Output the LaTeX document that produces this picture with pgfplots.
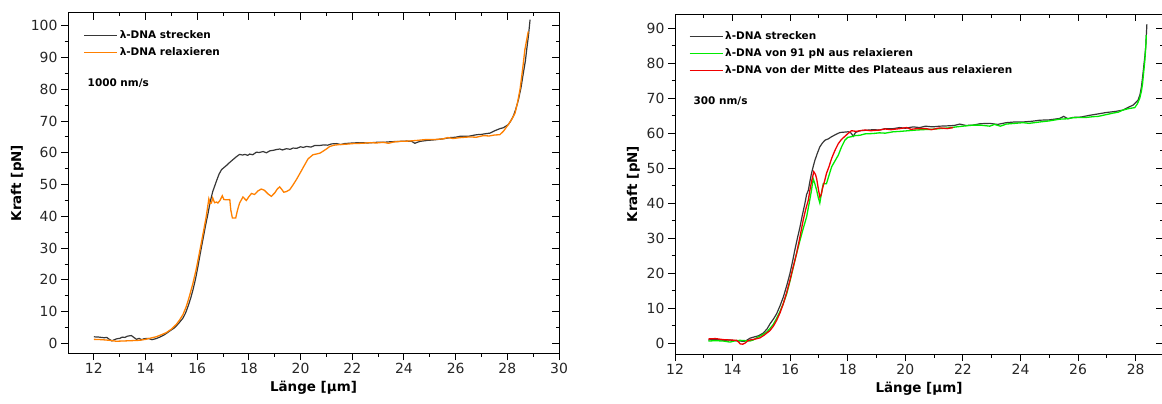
\documentclass[border=0pt]{standalone}
\usepackage{fontspec}
\setmainfont{DejaVu Sans}
\usepackage{pgfplots}
\pgfplotsset{compat=1.18}
\definecolor{cblack}{RGB}{55,55,55}
\definecolor{corange}{RGB}{255,128,0}
\definecolor{cgreen}{RGB}{0,235,0}
\definecolor{cred}{RGB}{240,0,0}
\pgfplotsset{
  base/.style={
    scale only axis,
    axis line style={line width=1bp, black},
    every tick/.style={line width=1bp, black},
    major tick length=7bp,
    minor tick length=3.5bp,
    minor x tick num=1,
    minor y tick num=1,
    /pgf/number format/assume math mode=true,
    tick label style={font=\fontsize{14}{14}\selectfont, text=black!85},
    label style={font=\bfseries\fontsize{13.5}{14}\selectfont},
  },
  mainax/.style={base, tick align=outside, xtick pos=left, ytick pos=left},
  overax/.style={base, tick align=inside, xtick pos=right, ytick pos=right,
    xticklabels={}, yticklabels={}},
}
\begin{document}
\begin{tikzpicture}[x=1bp,y=1bp]
\useasboundingbox (0,0) rectangle (1162,403);
% ---------------- left panel
\begin{axis}[mainax, at={(68bp,50bp)}, anchor=south west,
  width=491bp, height=340bp,
  xmin=11, xmax=30, ymin=-3, ymax=104,
  xtick={12,14,...,30}, ytick={0,10,...,100},
  xlabel={Länge [µm]}, ylabel={Kraft [pN]},
  legend style={draw=none, fill=none, anchor=north west, at={(0.025,0.96)},
      font=\bfseries\fontsize{10.5}{12}\selectfont, row sep=3.5bp},
  legend cell align=left,
  legend image code/.code={\draw[#1, line width=1.3bp] (0bp,0bp) -- (33bp,0bp);},
]
\addplot[cblack, line width=1.2bp] coordinates {
(12,2.1) (12.2,2.0) (12.4,1.8) (12.5,1.9) (12.6,1.3) (12.7,0.8) (12.8,1.2) (12.9,1.5) (13.0,1.6) (13.1,2.0) (13.2,1.9) (13.3,2.3) (13.45,2.5) (13.55,1.9) (13.65,1.3) (13.75,1.6) (13.85,1.2) (13.95,1.5) (14.1,1.6) (14.25,1.2) (14.4,1.5) (14.55,2.0) (14.7,2.6) (14.85,3.4) (14.95,4.0) (15.1,4.8) (15.2,5.6) (15.3,6.5) (15.45,8.0) (15.55,9.6) (15.65,11.8) (15.75,14.3) (15.84,17) (15.94,20.5) (16.03,24.3) (16.12,28.4) (16.22,32.7) (16.32,37) (16.42,41) (16.5,44.5) (16.6,47.8) (16.74,51) (16.84,53.2) (16.94,54.7) (17.04,55.4) (17.13,56.0) (17.26,57.0) (17.39,57.9) (17.52,58.8) (17.64,59.5) (17.75,59.3) (17.85,59.5) (17.95,59.2) (18.03,59.6) (18.15,59.4) (18.29,60.2) (18.4,60.1) (18.55,60.4) (18.68,60.0) (18.8,60.6) (18.95,60.8) (19.05,61.0) (19.19,61.2) (19.3,60.9) (19.45,61.3) (19.6,61.1) (19.71,61.5) (19.85,61.4) (20.0,61.9) (20.1,61.7) (20.23,62.0) (20.4,61.8) (20.55,62.3) (20.74,62.3) (20.9,62.5) (21.05,62.4) (21.2,62.8) (21.39,62.9) (21.55,62.6) (21.7,62.9) (21.85,63.0) (22.03,63.1) (22.3,63.2) (22.6,63.1) (22.94,63.3) (23.2,63.3) (23.5,63.5) (23.84,63.6) (24.1,63.7) (24.3,63.6) (24.42,63.0) (24.55,63.4) (24.62,63.6) (24.9,63.9) (25.2,64.1) (25.52,64.4) (25.8,64.8) (26.0,64.9) (26.17,65.2) (26.5,65.2) (26.81,65.7) (27.0,65.8) (27.15,66.0) (27.33,66.2) (27.5,66.9) (27.71,67.6) (27.85,67.9) (28.04,68.9) (28.13,70.0) (28.23,71.5) (28.33,73.8) (28.43,76.7) (28.53,80.5) (28.62,85.1) (28.7,89) (28.75,92.5) (28.82,97) (28.88,101.9)
};
\addlegendentry{λ-DNA strecken}
\addplot[corange, line width=1.3bp] coordinates {
(12,1.3) (12.3,1.2) (12.6,1.0) (12.87,0.7) (13.2,0.8) (13.5,0.9) (13.77,1.0) (14.0,1.3) (14.2,1.7) (14.41,2.1) (14.6,2.7) (14.8,3.4) (15.0,4.5) (15.19,6) (15.32,7.4) (15.45,9.1) (15.58,11.7) (15.7,14.9) (15.83,18.8) (15.96,23.3) (16.06,27.5) (16.16,31.7) (16.26,36) (16.35,40) (16.45,45.5) (16.5,44.0) (16.55,44.2) (16.6,45.8) (16.67,44.3) (16.75,44.5) (16.8,44.2) (16.88,45.0) (16.97,46.5) (17.03,45.3) (17.15,45.2) (17.26,45.3) (17.3,42) (17.36,39.5) (17.49,39.5) (17.56,42) (17.64,44.2) (17.77,46.1) (17.9,45.0) (18.0,46.2) (18.1,47.2) (18.22,46.9) (18.35,48.0) (18.48,48.6) (18.6,48.2) (18.75,47.0) (18.87,46.3) (19.0,47.4) (19.1,48.6) (19.19,49.3) (19.28,48.4) (19.35,47.6) (19.45,47.8) (19.58,48.4) (19.7,49.8) (19.84,51.6) (20.0,53.9) (20.15,56.1) (20.29,58.1) (20.48,59.4) (20.6,59.6) (20.75,59.9) (20.87,60.5) (21.0,61.2) (21.13,62.0) (21.3,62.4) (21.52,62.6) (21.75,62.7) (22.03,62.9) (22.4,63.0) (22.7,63.2) (22.94,63.1) (23.2,63.3) (23.4,63.0) (23.6,63.4) (23.84,63.6) (24.2,63.7) (24.5,63.9) (24.87,64.2) (25.2,64.2) (25.52,64.4) (25.7,64.8) (25.9,64.5) (26.2,64.8) (26.55,65.0) (26.8,64.9) (27.07,65.4) (27.3,65.3) (27.5,65.6) (27.71,65.7) (27.85,66.8) (28.04,68.9) (28.17,70.5) (28.3,72.5) (28.4,76) (28.49,79.9) (28.58,85.5) (28.68,92.5) (28.81,98.2)
};
\addlegendentry{λ-DNA relaxieren}
\node[anchor=west, font=\bfseries\fontsize{10.5}{12}\selectfont] at (rel axis cs:0.033,0.794) {1000 nm/s};
\end{axis}
\begin{axis}[overax, at={(68bp,50bp)}, anchor=south west,
  width=491bp, height=340bp,
  xmin=11, xmax=30, ymin=-3, ymax=104,
  xtick={12,14,...,30}, ytick={0,10,...,100}]
\end{axis}
% ---------------- right panel
\begin{axis}[mainax, at={(675bp,49bp)}, anchor=south west,
  width=488bp, height=340bp,
  xmin=12, xmax=28.95, ymin=-3, ymax=94,
  xtick={12,14,...,28}, ytick={0,10,...,90},
  xlabel={Länge [µm]}, ylabel={Kraft [pN]},
  legend style={draw=none, fill=none, anchor=north west, at={(0.022,0.96)},
      font=\bfseries\fontsize{10.5}{12}\selectfont, row sep=3.5bp},
  legend cell align=left,
  legend image code/.code={\draw[#1, line width=1.3bp] (0bp,0bp) -- (33bp,0bp);},
]
\addplot[cblack, line width=1.2bp] coordinates {
(13.16,1.0) (13.4,1.2) (13.68,0.9) (13.9,1.0) (14.1,0.8) (14.26,0.7) (14.4,0.6) (14.49,0.9) (14.6,1.5) (14.72,1.8) (14.9,2.2) (15.07,3.0) (15.2,4.2) (15.3,5.6) (15.42,7.0) (15.53,8.5) (15.65,10.8) (15.76,13.2) (15.88,16.5) (15.99,19.9) (16.08,23.3) (16.16,26.6) (16.25,30.0) (16.34,33.2) (16.42,36.5) (16.51,39.9) (16.57,42.5) (16.63,43.7) (16.68,46) (16.74,48.5) (16.8,50.5) (16.86,52.3) (16.95,54.4) (17.03,56.1) (17.12,57.2) (17.21,58.0) (17.33,58.4) (17.44,59.0) (17.6,59.7) (17.73,60.2) (17.88,60.3) (18.02,60.4) (18.12,60.0) (18.19,59.1) (18.27,60.2) (18.42,60.7) (18.6,60.8) (18.88,61.0) (19.1,60.9) (19.3,61.3) (19.58,61.3) (19.8,61.6) (20.0,61.4) (20.27,61.8) (20.5,61.6) (20.7,62.0) (20.95,61.8) (21.2,62.0) (21.5,62.1) (21.7,62.2) (21.89,62.6) (22.1,62.2) (22.35,62.3) (22.6,62.7) (22.93,62.8) (23.2,62.5) (23.51,63.0) (23.8,63.2) (24.09,63.2) (24.4,63.4) (24.67,63.7) (25.0,63.8) (25.36,64.2) (25.5,64.8) (25.65,64.1) (25.82,64.5) (26.1,64.6) (26.4,65.1) (26.7,65.5) (26.98,65.9) (27.3,66.2) (27.56,66.6) (27.75,67.4) (27.91,68.0) (28.08,69.4) (28.15,71.0) (28.2,73.2) (28.24,76) (28.28,79.0) (28.32,82) (28.35,84.7) (28.39,91.1)
};
\addlegendentry{λ-DNA strecken}
\addplot[cgreen, line width=1.3bp] coordinates {
(13.16,0.7) (13.4,0.8) (13.68,0.7) (13.91,0.4) (14.1,0.8) (14.26,0.9) (14.45,0.8) (14.6,0.7) (14.72,1.0) (14.83,1.6) (15.0,2.3) (15.18,3.2) (15.3,4.3) (15.41,5.4) (15.52,7.0) (15.64,9.0) (15.76,11.4) (15.88,14.2) (16.0,18.0) (16.11,21.8) (16.22,25.6) (16.34,29.4) (16.45,32.7) (16.57,36.1) (16.66,40.0) (16.74,43.7) (16.8,47.0) (16.86,45.5) (16.92,43.7) (16.98,41.5) (17.03,40.1) (17.09,43.0) (17.15,45.6) (17.26,45.6) (17.35,48.0) (17.44,50.4) (17.55,52.0) (17.67,53.7) (17.78,56.0) (17.9,58.0) (18.0,58.8) (18.13,59.0) (18.25,59.3) (18.42,59.4) (18.6,59.8) (18.88,59.9) (19.1,60.1) (19.3,60.0) (19.58,60.4) (19.8,60.5) (20.1,60.7) (20.39,60.9) (20.6,61.0) (20.9,61.1) (21.2,61.3) (21.5,61.5) (21.78,61.8) (22.0,62.0) (22.35,62.3) (22.6,62.3) (22.93,62.0) (23.1,62.5) (23.3,62.0) (23.51,62.6) (23.8,62.8) (24.09,63.0) (24.3,62.8) (24.67,63.2) (25.0,63.5) (25.36,64.0) (25.6,64.1) (25.82,64.4) (26.1,64.5) (26.3,64.5) (26.51,64.7) (26.7,64.8) (26.98,65.3) (27.2,65.7) (27.4,66.0) (27.56,66.6) (27.75,67.0) (27.97,67.3) (28.06,68.4) (28.14,69.9) (28.2,72.0) (28.24,74.2) (28.28,77.5) (28.32,80.9) (28.35,84.5) (28.37,88.0)
};
\addlegendentry{λ-DNA von 91 pN aus relaxieren}
\addplot[cred, line width=1.3bp] coordinates {
(13.16,1.3) (13.4,1.4) (13.68,1.1) (13.9,1.0) (14.14,0.9) (14.22,0.3) (14.26,-0.1) (14.35,-0.2) (14.43,0.1) (14.52,0.7) (14.6,1.0) (14.75,1.2) (14.95,1.6) (15.1,2.4) (15.3,3.7) (15.42,5.0) (15.53,6.6) (15.65,8.8) (15.76,11.3) (15.88,14.6) (15.99,18.0) (16.1,21.7) (16.22,25.6) (16.33,30.0) (16.45,35.1) (16.54,38.3) (16.63,40.9) (16.69,44.0) (16.74,46.1) (16.82,49.0) (16.88,48.2) (16.92,47.0) (16.98,44.0) (17.03,41.8) (17.08,42.5) (17.12,44.2) (17.2,46.5) (17.26,48.5) (17.35,50.5) (17.44,52.8) (17.55,55.0) (17.67,57.0) (17.78,58.2) (17.9,59.1) (18.02,60.0) (18.13,60.7) (18.3,60.5) (18.42,60.7) (18.6,60.9) (18.8,60.7) (19.11,60.9) (19.3,61.2) (19.5,61.0) (19.8,61.3) (20.04,61.6) (20.2,61.1) (20.4,61.3) (20.73,61.3) (20.9,61.0) (21.2,61.5) (21.45,61.3) (21.66,61.6)
};
\addlegendentry{λ-DNA von der Mitte des Plateaus aus relaxieren}
\node[anchor=west, font=\bfseries\fontsize{10.5}{12}\selectfont] at (rel axis cs:0.031,0.744) {300 nm/s};
\end{axis}
\begin{axis}[overax, at={(675bp,49bp)}, anchor=south west,
  width=488bp, height=340bp,
  xmin=12, xmax=28.95, ymin=-3, ymax=94,
  xtick={12,14,...,28}, ytick={0,10,...,90}]
\end{axis}
\end{tikzpicture}
\end{document}
